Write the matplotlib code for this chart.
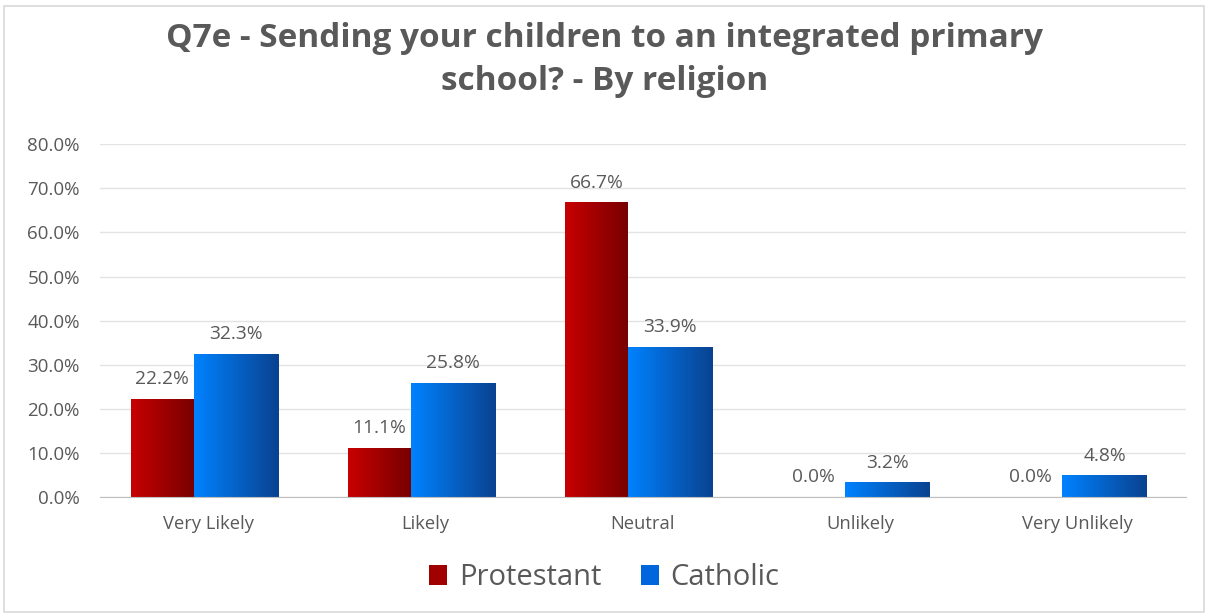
import matplotlib.pyplot as plt
import numpy as np
from matplotlib.patches import Patch, Rectangle
from matplotlib.colors import LinearSegmentedColormap

categories = ['Very Likely', 'Likely', 'Neutral', 'Unlikely', 'Very Unlikely']
protestant = [22.2, 11.1, 66.7, 0.0, 0.0]
catholic = [32.3, 25.8, 33.9, 3.2, 4.8]
yticks = [0, 10, 20, 30, 40, 50, 60, 70, 80]

plt.rcParams['font.family'] = ['Open Sans', 'DejaVu Sans']
txt = '#595959'

fig = plt.figure(figsize=(12.09, 6.16), dpi=100)
ax = fig.add_axes([0.0827, 0.193, 0.898, 0.573])

x = np.arange(len(categories))
red_cmap = LinearSegmentedColormap.from_list('r', ['#C80000', '#780000'])
blue_cmap = LinearSegmentedColormap.from_list('b', ['#0082FF', '#0A4290'])

b1 = ax.bar(x - 0.358, protestant, width=0.29, align='edge', color='none', zorder=3)
b2 = ax.bar(x - 0.068, catholic, width=0.39, align='edge', color='none', zorder=3)

# horizontal gradient fill inside each bar
grad = np.linspace(0, 1, 256).reshape(1, -1)
for bars, cmap in ((b1, red_cmap), (b2, blue_cmap)):
    for p in bars:
        h = p.get_height()
        if h <= 0:
            continue
        x0 = p.get_x()
        ax.imshow(grad, cmap=cmap, aspect='auto', zorder=3,
                  extent=[x0, x0 + p.get_width(), 0, h], interpolation='bicubic')

for bars, vals in ((b1, protestant), (b2, catholic)):
    for p, v in zip(bars, vals):
        ax.annotate('{0:.1f}%'.format(v), (p.get_x() + p.get_width() / 2, v),
                    xytext=(0, 8), textcoords='offset points', ha='center', va='bottom',
                    fontsize=13.8, color=txt)

ax.set_xlim(-0.5, 4.5)
ax.set_ylim(0, 80)
ax.set_yticks(yticks)
ax.set_yticklabels(['{0:.1f}%'.format(t) for t in yticks], fontsize=13.5, color=txt)
ax.set_xticks(x)
ax.set_xticklabels(categories, fontsize=13.2, color=txt)
ax.tick_params(length=0)
ax.tick_params(axis='x', pad=13)
ax.tick_params(axis='y', pad=14.5)
ax.grid(axis='y', color='#E3E3E3', linewidth=1, zorder=0)
ax.set_axisbelow(True)
for s in ['top', 'right', 'left']:
    ax.spines[s].set_visible(False)
ax.spines['bottom'].set_color('#BFBFBF')
ax.spines['bottom'].set_zorder(4)

fig.text(0.5, 0.902, 'Q7e - Sending your children to an integrated primary\nschool? - By religion',
         ha='center', va='center', fontsize=24, fontweight='bold', color=txt, linespacing=1.4)

handles = [Patch(facecolor='#A00000', label='Protestant'), Patch(facecolor='#0066DD', label='Catholic')]
fig.legend(handles=handles, loc='center', bbox_to_anchor=(0.5, 0.062), ncol=2, frameon=False,
           fontsize=21, labelcolor=txt, handlelength=0.62, handleheight=0.68, handletextpad=0.4,
           columnspacing=1.35)

fig.patches.append(Rectangle((0.003, 0.006), 0.993, 0.985, transform=fig.transFigure,
                             fill=False, edgecolor='#D9D9D9', linewidth=1.2))

fig.savefig('out.png', dpi=100)
